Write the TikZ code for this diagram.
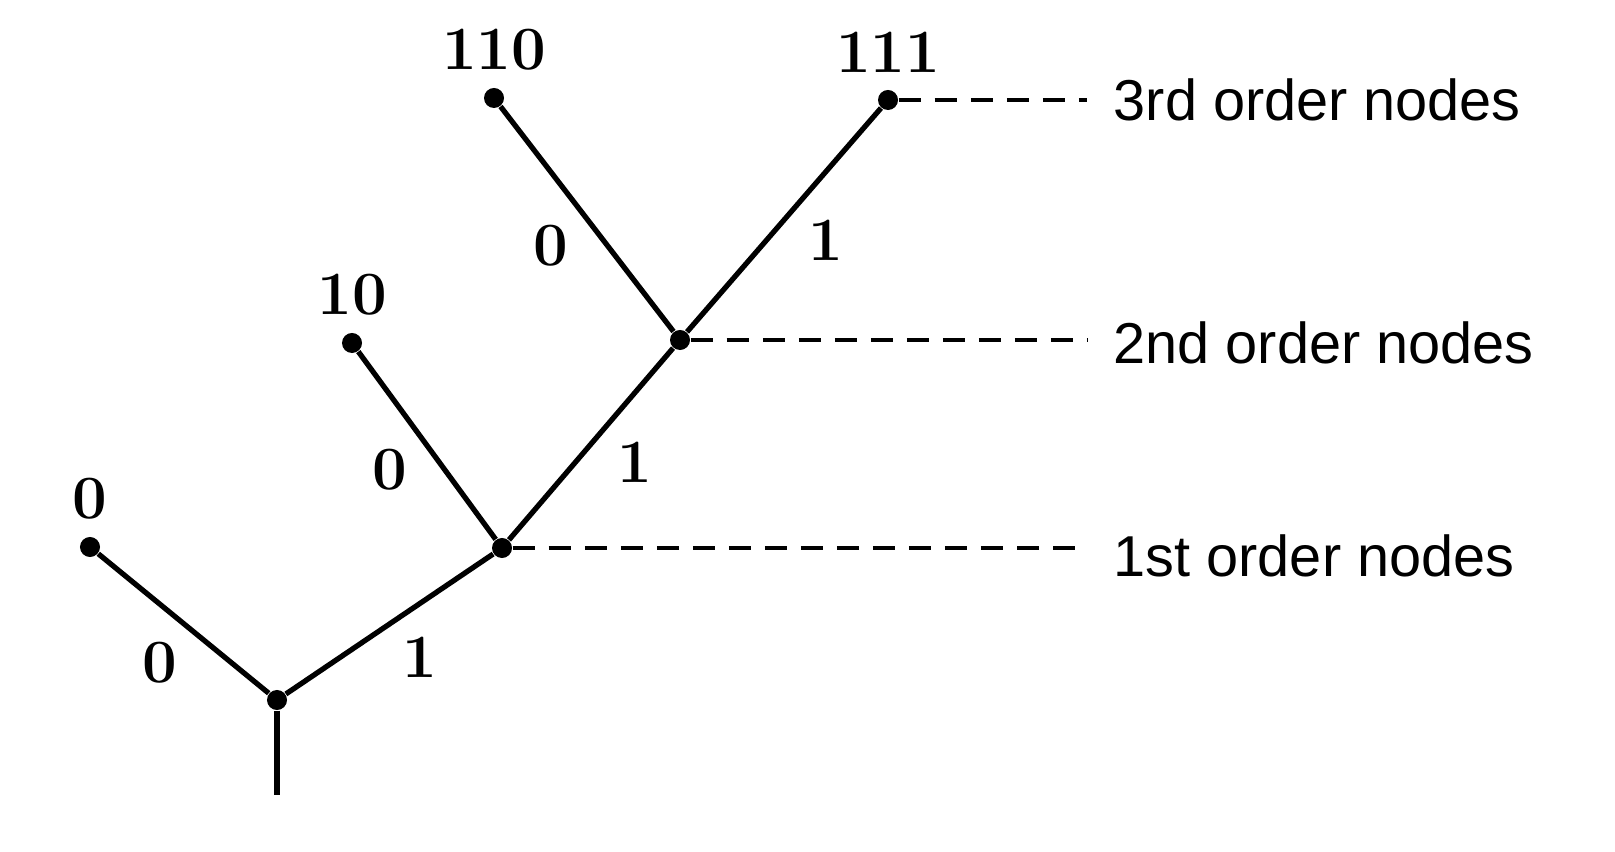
\documentclass[tikz,border=0pt]{standalone}
\usepackage{fontspec}
\setsansfont{Liberation Sans}
\usetikzlibrary{positioning}
\tikzstyle{dot} = [circle, fill=black, inner sep=0pt, minimum size=0.2cm]
\tikzstyle{branch} = [draw, line width=1.5pt]
\tikzstyle{guide} = [draw, line width=1.2pt, dash pattern=on 0.22cm off 0.14cm]
\tikzstyle{bits} = [font=\fontsize{17.5}{20}\selectfont\bfseries, inner sep=3pt]
\tikzstyle{level} = [font=\fontsize{16.4}{19}\selectfont\sffamily, anchor=west, inner sep=0pt]

\begin{document}
\begin{tikzpicture}[x=0.01cm, y=-0.01cm, auto, label distance=0.06cm]
    \useasboundingbox (0,0) rectangle (1615,852);
    % Place nodes
    \node [dot] (root) at (277,700) {};
    \coordinate (stem) at (277,795);
    \node [dot, label={[bits]above:0}] (n0) at (90,547) {};
    \node [dot] (n1) at (502,548) {};
    \node [dot, label={[bits]above:10}] (n10) at (352,343) {};
    \node [dot] (n2) at (680,340) {};
    \node [dot, label={[bits]above:110}] (n110) at (494,98) {};
    \node [dot, label={[bits]above:111}] (n111) at (888,100) {};
    % Order legend
    \coordinate (d3) at (1087,100);
    \coordinate (d2) at (1087,340);
    \coordinate (d1) at (1087,548);
    \node [level, right=0.26cm of d3] (l3) {3rd order nodes};
    \node [level, right=0.26cm of d2, yshift=-0.03cm] (l2) {2nd order nodes};
    \node [level, right=0.26cm of d1, yshift=-0.08cm] (l1) {1st order nodes};
    % Draw edges
    \path [branch] (root) -- (stem);
    \path [branch] (root) -- node [bits, pos=0.46] {0} (n0);
    \path [branch] (root) -- node [bits, swap, pos=0.5] {1} (n1);
    \path [branch] (n1) -- node [bits, pos=0.55] {0} (n10);
    \path [branch] (n1) -- node [bits, swap, pos=0.58] {1} (n2);
    \path [branch] (n2) -- node [bits, pos=0.53] {0} (n110);
    \path [branch] (n2) -- node [bits, swap, pos=0.56] {1} (n111);
    \path [guide] (n111) -- (d3);
    \path [guide] (n2) -- (d2);
    \path [guide] (n1) -- (d1);
\end{tikzpicture}
\end{document}
